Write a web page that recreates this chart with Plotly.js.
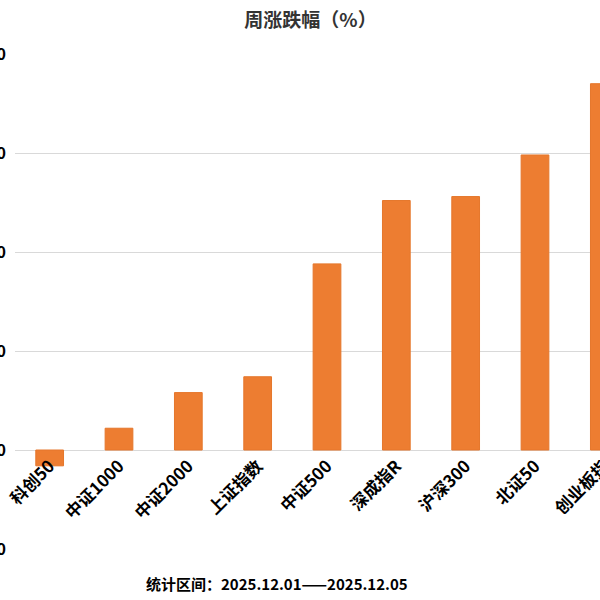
<!DOCTYPE html>
<html>
<head>
<meta charset="utf-8">
<script src="https://cdn.plot.ly/plotly-3.0.1.min.js"></script>
<style>
html, body { margin: 0; padding: 0; width: 600px; height: 600px; overflow: hidden; background: #fff; }
#chart { position: absolute; left: -40px; top: 0; width: 690px; height: 600px; }
</style>
</head>
<body>
<div id="chart"></div>
<script>
const categories = ["科创50", "中证1000", "中证2000", "上证指数", "中证500", "深成指R", "沪深300", "北证50", "创业板指"];
const weeklyChange = [-0.08, 0.11, 0.29, 0.37, 0.94, 1.26, 1.28, 1.49, 1.85];
const yTickValues = [-0.5, 0, 0.5, 1.0, 1.5, 2.0];
const yRange = [-0.5, 2.0];
const chartTitle = "周涨跌幅（%）";
const footnote = "统计区间：2025.12.01——2025.12.05";

const fontFam = '"Noto Sans CJK SC", "Noto Sans", sans-serif';

const trace = {
  type: "bar",
  x: categories,
  y: weeklyChange,
  marker: { color: "#ED7D31", line: { color: "#E5772C", width: 1 } },
  hoverinfo: "x+y"
};

const layout = {
  width: 690,
  height: 600,
  margin: { l: 55, r: 11, t: 54, b: 51 },
  paper_bgcolor: "#ffffff",
  plot_bgcolor: "#ffffff",
  showlegend: false,
  bargap: 0.6,
  title: {
    text: chartTitle,
    x: 0.508,
    xanchor: "center",
    y: 1 - 20 / 600,
    yanchor: "middle",
    font: { family: fontFam, size: 19, color: "#333333", weight: "bold" }
  },
  xaxis: {
    type: "category",
    anchor: "free",
    position: (0 - yRange[0]) / (yRange[1] - yRange[0]),
    tickangle: -45,
    showgrid: false,
    showline: false,
    ticks: "",
    ticklabelstandoff: 2,
    tickfont: { family: fontFam, size: 17, color: "#000000", weight: "bold" }
  },
  yaxis: {
    range: yRange,
    tickmode: "array",
    tickvals: yTickValues,
    tickformat: ".2f",
    showgrid: true,
    gridcolor: "#d9d9d9",
    gridwidth: 1,
    zeroline: true,
    zerolinecolor: "#d9d9d9",
    zerolinewidth: 1,
    showline: false,
    ticks: "",
    ticklabelstandoff: 8,
    tickfont: { family: fontFam, size: 16, color: "#000000", weight: "bold" }
  },
  annotations: [{
    text: footnote,
    xref: "paper",
    yref: "paper",
    x: 0.42,
    y: -0.0687,
    xanchor: "center",
    yanchor: "middle",
    showarrow: false,
    font: { family: fontFam, size: 15, color: "#000000", weight: "bold" }
  }]
};

Plotly.newPlot("chart", [trace], layout, { displayModeBar: false, staticPlot: true });
</script>
</body>
</html>
